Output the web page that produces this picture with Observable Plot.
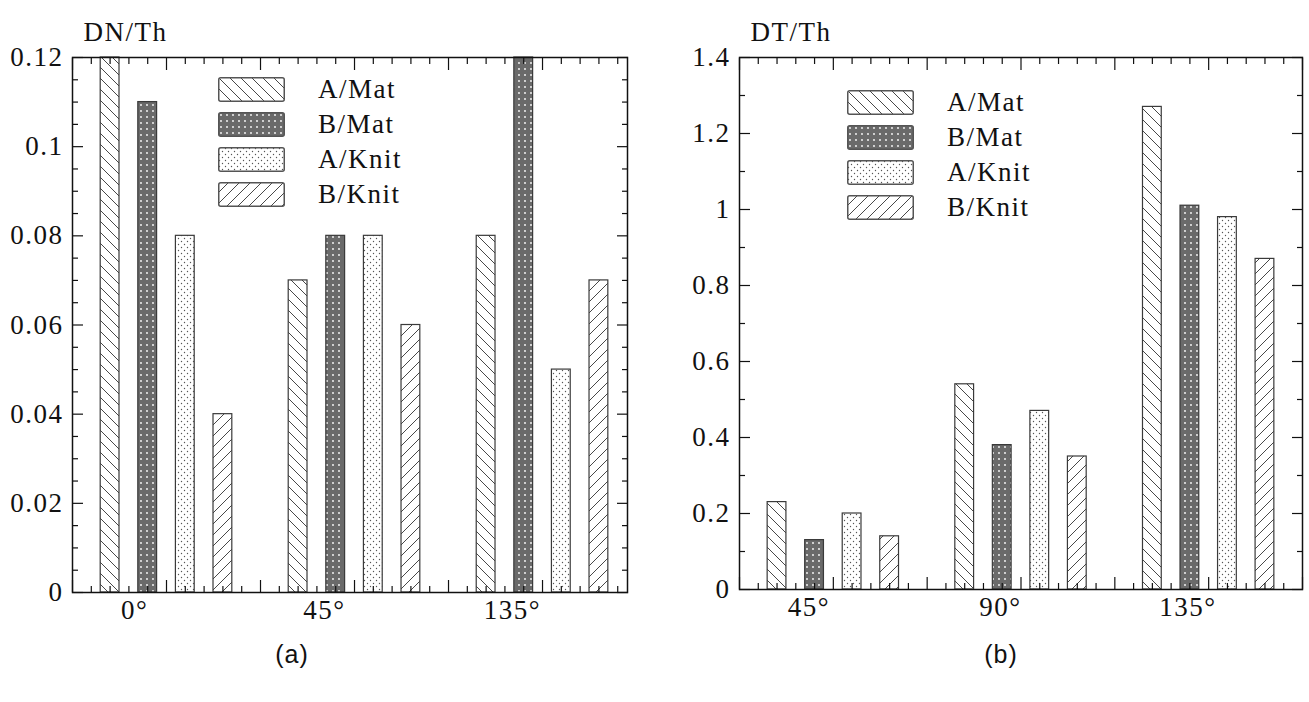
<!DOCTYPE html>
<html><head><meta charset="utf-8">
<script src="https://cdn.jsdelivr.net/npm/d3@7"></script>
<script src="https://cdn.jsdelivr.net/npm/@observablehq/plot@0.6"></script>
<style>
body{margin:0;background:#fff;}
#wrap{position:relative;width:1309px;height:702px;overflow:hidden;font-family:"Liberation Serif",serif;color:#111;}
.chart{position:absolute;top:0;}
.legend{position:absolute;font-size:27px;letter-spacing:1.5px;}
.legend .row{display:flex;align-items:center;height:35px;}
.legend svg{flex:none;}
.legend span{margin-left:33px;line-height:1;}
.cap{position:absolute;font-family:"Liberation Sans",Arial,sans-serif;font-size:25px;letter-spacing:1px;transform:translateX(-50%);}
</style></head><body>
<svg width="0" height="0" style="position:absolute">
<defs>
<pattern id="hatchBack" patternUnits="userSpaceOnUse" width="11" height="11">
<rect width="11" height="11" fill="#fff"/>
<path d="M0,0L11,11M-2,9L2,13M9,-2L13,2" stroke="#333" stroke-width="0.9"/>
</pattern>
<pattern id="hatchFwd" patternUnits="userSpaceOnUse" width="11" height="11">
<rect width="11" height="11" fill="#fff"/>
<path d="M0,11L11,0M-2,2L2,-2M9,13L13,9" stroke="#333" stroke-width="0.9"/>
</pattern>
<pattern id="darkDots" patternUnits="userSpaceOnUse" width="6" height="6">
<rect width="6" height="6" fill="#6a6a6a"/>
<circle cx="3" cy="3" r="0.9" fill="#fff"/>
</pattern>
<pattern id="lightDots" patternUnits="userSpaceOnUse" width="6" height="6">
<rect width="6" height="6" fill="#fff"/>
<circle cx="1.5" cy="1.5" r="0.7" fill="#555"/>
<circle cx="4.5" cy="4.5" r="0.7" fill="#555"/>
</pattern>
</defs>
</svg>
<div id="wrap"></div>
<script>
const series = ["A/Mat", "B/Mat", "A/Knit", "B/Knit"];
const seriesPatterns = ["hatchBack", "darkDots", "lightDots", "hatchFwd"];

// (a) DN/Th
const dnCategories = ["0°", "45°", "135°"];
const dnLabelPos = [1.65, 6.7, 11.7];
const dnAMat = [0.12, 0.07, 0.08];
const dnBMat = [0.11, 0.08, 0.12];
const dnAKnit = [0.08, 0.08, 0.05];
const dnBKnit = [0.04, 0.06, 0.07];
const dnYTicks = [0, 0.02, 0.04, 0.06, 0.08, 0.1, 0.12];
const dnYLabels = ["0", "0.02", "0.04", "0.06", "0.08", "0.1", "0.12"];

// (b) DT/Th
const dtCategories = ["45°", "90°", "135°"];
const dtLabelPos = [1.85, 6.95, 11.95];
const dtAMat = [0.23, 0.54, 1.27];
const dtBMat = [0.13, 0.38, 1.01];
const dtAKnit = [0.20, 0.47, 0.98];
const dtBKnit = [0.14, 0.35, 0.87];
const dtYTicks = [0, 0.2, 0.4, 0.6, 0.8, 1, 1.2, 1.4];
const dtYLabels = ["0", "0.2", "0.4", "0.6", "0.8", "1", "1.2", "1.4"];

function buildRows(cats, cols) {
  const out = [];
  cats.forEach((c, gi) => cols.forEach((vals, si) =>
    out.push({cat: c, series: series[si], value: vals[gi], slot: gi * 5 + si + 1})));
  return out;
}

function near(a, b) { return Math.abs(a - b) < 1e-9; }

function chart(o) {
  const xMajor = d3.range(0, o.xMax + 1e-9, 2.5);
  const xMinor = d3.range(0, o.xMax + 1e-9, 0.5).filter(v => !xMajor.some(m => near(m, v)));
  const yMinor = d3.range(0, o.yMax + 1e-9, o.yMinorStep).filter(v => !o.yTicks.some(m => near(m, v)));
  const tickStyle = {fill: "none", label: null, stroke: "#111", strokeWidth: 1.2};
  const marks = [];
  series.forEach((s, si) => {
    marks.push(Plot.rectY(o.data.filter(d => d.series === s), {
      x1: d => d.slot - 0.25, x2: d => d.slot + 0.25, y1: 0, y2: "value",
      fill: `url(#${seriesPatterns[si]})`, stroke: "#3a3a3a", strokeWidth: 1.2
    }));
  });
  for (const anchor of ["left", "right"]) {
    marks.push(Plot.axisY({anchor, ticks: o.yTicks, tickSize: -11, ...tickStyle}));
    marks.push(Plot.axisY({anchor, ticks: yMinor, tickSize: -6, ...tickStyle}));
  }
  for (const anchor of ["bottom", "top"]) {
    marks.push(Plot.axisX({anchor, ticks: xMajor, tickSize: -12, ...tickStyle}));
    marks.push(Plot.axisX({anchor, ticks: xMinor, tickSize: -6, ...tickStyle}));
  }
  marks.push(Plot.axisY({anchor: "left", ticks: o.yTicks, tickSize: 0, tickPadding: 9,
    tickFormat: d => o.yLabels[o.yTicks.findIndex(t => near(t, d))], label: null, fontSize: 27}));
  marks.push(Plot.axisX({anchor: "bottom", ticks: o.labelPos, tickSize: 0, tickPadding: 7,
    tickFormat: d => o.cats[o.labelPos.findIndex(t => near(t, d))], label: null, fontSize: 27}));
  marks.push(Plot.text([o.title], {frameAnchor: "top-left", textAnchor: "start", dx: 11, dy: -36, fontSize: 27}));
  marks.push(Plot.frame({stroke: "#111", strokeWidth: 1.5}));
  const svg = Plot.plot({
    width: o.width, height: o.height,
    marginLeft: o.ml, marginRight: o.mr, marginTop: o.mt, marginBottom: o.mb,
    x: {domain: [0, o.xMax]}, y: {domain: [0, o.yMax]},
    style: {fontFamily: "'Liberation Serif', serif", fontSize: "27px", color: "#111", background: "transparent", letterSpacing: "1.5px"},
    marks
  });
  svg.classList.add("chart");
  svg.style.left = o.left + "px";
  return svg;
}

function legend(left, top) {
  const div = document.createElement("div");
  div.className = "legend";
  div.style.left = left + "px";
  div.style.top = top + "px";
  series.forEach((s, si) => {
    const row = document.createElement("div");
    row.className = "row";
    row.innerHTML = `<svg width="67" height="25"><rect x="0.75" y="0.75" width="65.5" height="23.5" rx="2" fill="url(#${seriesPatterns[si]})" stroke="#555" stroke-width="1.5"/></svg><span>${s}</span>`;
    div.appendChild(row);
  });
  return div;
}

const wrap = document.getElementById("wrap");
wrap.appendChild(chart({
  data: buildRows(dnCategories, [dnAMat, dnBMat, dnAKnit, dnBKnit]),
  cats: dnCategories, labelPos: dnLabelPos, yTicks: dnYTicks, yLabels: dnYLabels,
  yMinorStep: 0.005, yMax: 0.12, xMax: 14.76, title: "DN/Th",
  left: 0, width: 650, height: 640, ml: 72, mr: 23, mt: 57, mb: 48
}));
wrap.appendChild(chart({
  data: buildRows(dtCategories, [dtAMat, dtBMat, dtAKnit, dtBKnit]),
  cats: dtCategories, labelPos: dtLabelPos, yTicks: dtYTicks, yLabels: dtYLabels,
  yMinorStep: 0.1, yMax: 1.4, xMax: 15, title: "DT/Th",
  left: 660, width: 649, height: 640, ml: 79, mr: 7, mt: 57, mb: 51
}));
wrap.appendChild(legend(218, 72));
wrap.appendChild(legend(847, 85));
const capA = document.createElement("div");
capA.className = "cap"; capA.textContent = "(a)"; capA.style.left = "292px"; capA.style.top = "640px";
const capB = document.createElement("div");
capB.className = "cap"; capB.textContent = "(b)"; capB.style.left = "1001px"; capB.style.top = "640px";
wrap.appendChild(capA); wrap.appendChild(capB);
</script>
</body></html>
